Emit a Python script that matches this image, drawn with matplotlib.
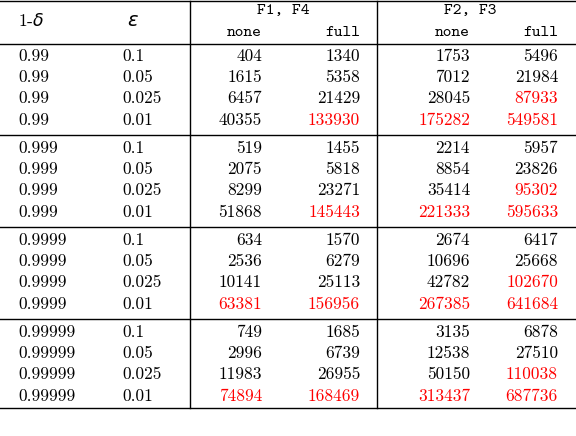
import matplotlib.pyplot as plt

# table data
deltas = ["0.99", "0.999", "0.9999", "0.99999"]
epsilons = ["0.1", "0.05", "0.025", "0.01"]
f14_none = [404, 1615, 6457, 40355, 519, 2075, 8299, 51868,
            634, 2536, 10141, 63381, 749, 2996, 11983, 74894]
f14_full = [1340, 5358, 21429, 133930, 1455, 5818, 23271, 145443,
            1570, 6279, 25113, 156956, 1685, 6739, 26955, 168469]
f23_none = [1753, 7012, 28045, 175282, 2214, 8854, 35414, 221333,
            2674, 10696, 42782, 267385, 3135, 12538, 50150, 313437]
f23_full = [5496, 21984, 87933, 549581, 5957, 23826, 95302, 595633,
            6417, 25668, 102670, 641684, 6878, 27510, 110038, 687736]
red_above = 60000

W, H = 576, 436
fig = plt.figure(figsize=(W / 100, H / 100), dpi=100)
ax = fig.add_axes([0, 0, 1, 1])
ax.set_xlim(0, W)
ax.set_ylim(H, 0)
ax.axis("off")

serif = dict(family="cmr10", fontsize=12.5, va="center")
mono = dict(family="cmtt10", fontsize=12, va="center")

# rules
lw = 1.0
ax.plot([0, W], [1, 1], color="black", lw=lw)
ax.plot([0, W], [44, 44], color="black", lw=lw)
for y in [135, 227, 319]:
    ax.plot([0, W], [y, y], color="black", lw=lw)
ax.plot([0, W], [408, 408], color="black", lw=lw)
for x in [190, 377]:
    ax.plot([x, x], [1, 408], color="black", lw=lw)

# header
ax.text(18, 21, r"1-$\delta$", ha="left", **serif)
ax.text(133, 21, r"$\epsilon$", ha="center", family="cmr10", fontsize=14, va="center")
ax.text(283, 11, "F1, F4", ha="center", **mono)
ax.text(470, 11, "F2, F3", ha="center", **mono)
for x, lab in [(262, "none"), (360, "full"), (470, "none"), (558, "full")]:
    ax.text(x, 33, lab, ha="right", **mono)

# body
row_h = 21.3
for g, d in enumerate(deltas):
    for r, e in enumerate(epsilons):
        i = g * 4 + r
        y = 56 + g * 92 + r * row_h
        ax.text(18, y, d, ha="left", **serif)
        ax.text(122, y, e, ha="left", **serif)
        for x, col in [(262, f14_none), (360, f14_full), (470, f23_none), (558, f23_full)]:
            v = col[i]
            c = "red" if v > red_above else "black"
            ax.text(x, y, str(v), ha="right", color=c, **serif)

fig.savefig("out.png", dpi=100)
